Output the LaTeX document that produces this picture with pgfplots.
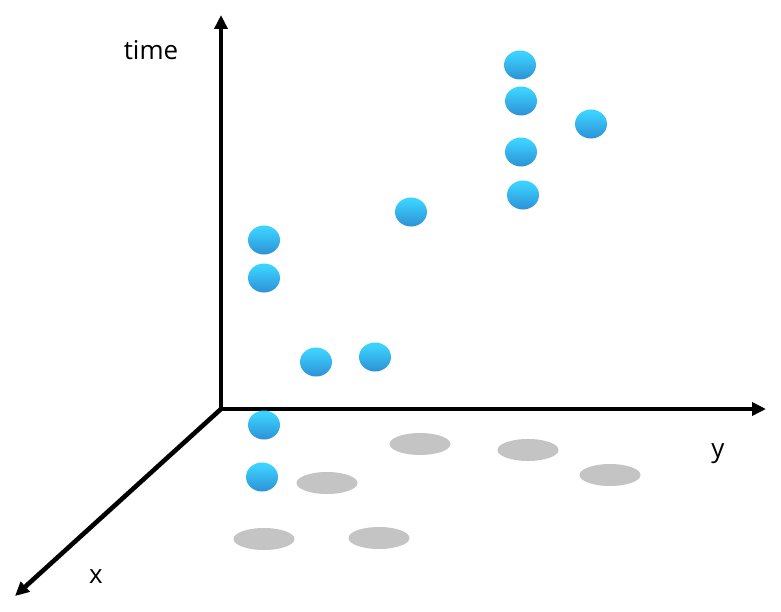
\documentclass[border=0pt]{standalone}
\usepackage{fontspec}
\setmainfont{Open Sans}
\usepackage{pgfplots}
\pgfplotsset{compat=1.18}
\usetikzlibrary{arrows.meta}
\definecolor{balltop}{HTML}{3CD2FF}
\definecolor{ballmid}{HTML}{2E98DA}
\definecolor{ballbot}{HTML}{2466A4}
\definecolor{shadowgray}{HTML}{C4C4C4}
\pgfdeclareverticalshading{ballshade}{100bp}{color(0bp)=(ballbot); color(30bp)=(ballmid); color(70bp)=(balltop); color(100bp)=(balltop)}
\pgfdeclareplotmark{ball}{%
  \pgfpathellipse{\pgfpointorigin}{\pgfpoint{16bp}{0bp}}{\pgfpoint{0bp}{14.5bp}}%
  \pgfshadepath{ballshade}{0}\pgfusepath{discard}}
\pgfdeclareplotmark{shadow}{%
  \pgfpathellipse{\pgfpointorigin}{\pgfpoint{30.5bp}{0bp}}{\pgfpoint{0bp}{11bp}}%
  \pgfsetfillcolor{shadowgray}\pgfusepath{fill}}
\begin{document}
\begin{tikzpicture}
\begin{axis}[
  scale only axis,width=781bp,height=612bp,
  xmin=0,xmax=781,ymin=0,ymax=612,y dir=reverse,
  hide axis,clip=false,
  font=\fontsize{26}{30}\selectfont
]
% frame of the picture, not drawn
\addplot[draw=none] coordinates {(0,0) (781,612)};
% shadows on the floor
\addplot[only marks,mark=shadow] coordinates {
  (420,444) (528,450) (610,475) (327,483) (264,539) (379,538)};
% axes
\addplot[line width=4.6bp,-{Triangle[length=14bp,width=13bp]}] coordinates {(221,409) (221,15)};
\addplot[line width=4.6bp,-{Triangle[length=14bp,width=13bp]}] coordinates {(221,409) (766,409)};
\addplot[line width=4.6bp,-{Triangle[length=14bp,width=13bp]}] coordinates {(221,409) (15,596)};
% points
\addplot[only marks,mark=ball] coordinates {
  (520,65) (521,101) (591,124) (521,152) (523,195) (411,212)
  (264,240) (264,278) (316,362) (375,357) (264,425) (262,477)};
\node at (axis cs:151,50) {time};
\node at (axis cs:718,454) {y};
\node at (axis cs:96,577) {x};
\end{axis}
\end{tikzpicture}
\end{document}
